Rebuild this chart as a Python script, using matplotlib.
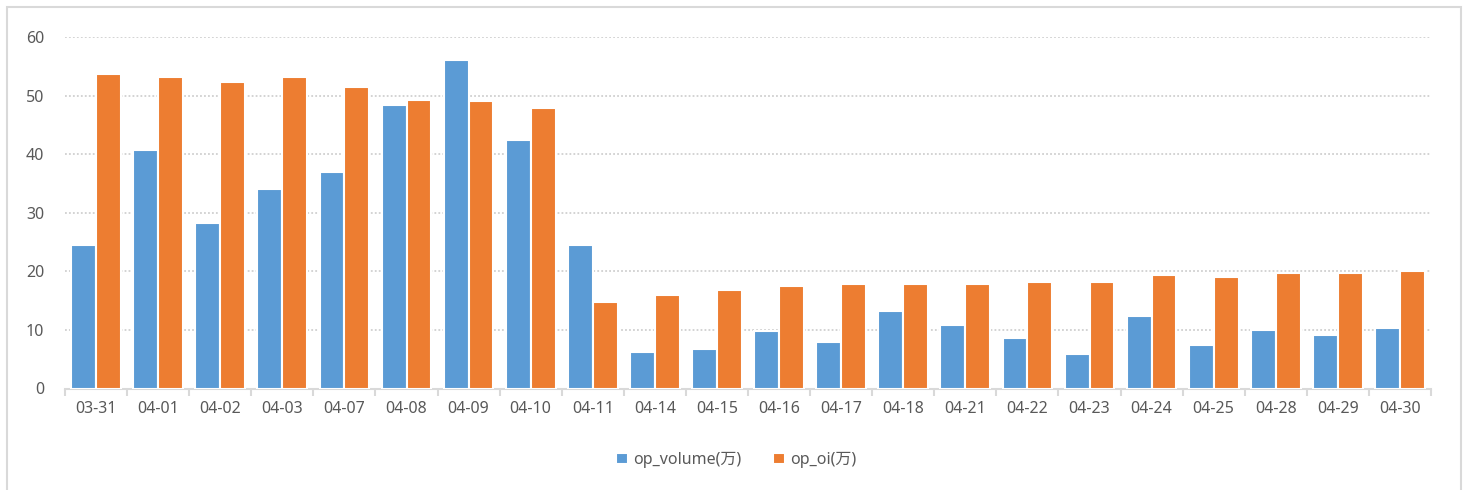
import numpy as np
import matplotlib.pyplot as plt
from matplotlib.patches import Rectangle

plt.rcParams['font.family'] = ['Noto Sans', 'Noto Sans CJK SC', 'DejaVu Sans']

dates = ['03-31', '04-01', '04-02', '04-03', '04-07', '04-08', '04-09', '04-10',
         '04-11', '04-14', '04-15', '04-16', '04-17', '04-18', '04-21', '04-22',
         '04-23', '04-24', '04-25', '04-28', '04-29', '04-30']
op_volume = [24.5, 40.7, 28.3, 34.1, 37.0, 48.5, 56.1, 42.4, 24.6, 6.3, 6.7,
             9.9, 8.0, 13.2, 10.9, 8.7, 5.9, 12.4, 7.5, 10.0, 9.1, 10.3]
op_oi = [53.8, 53.3, 52.4, 53.2, 51.5, 49.3, 49.1, 47.9, 14.7, 15.9, 16.8,
         17.5, 17.9, 17.8, 17.8, 18.2, 18.2, 19.4, 19.0, 19.7, 19.8, 20.1]

blue = '#5B9BD5'
orange = '#ED7D31'
grey = '#D9D9D9'
text_c = '#595959'

fig = plt.figure(figsize=(14.67, 4.9), dpi=100)
ax = fig.add_axes([65 / 1467, 1 - 388.5 / 490, (1431 - 65) / 1467, (388.5 - 37.3) / 490])

# outer chart border
fig.patches.append(Rectangle((7 / 1467, -0.1), (1461 - 7) / 1467, 1.1 - 7 / 490,
                             transform=fig.transFigure, fill=False,
                             edgecolor=grey, linewidth=1.5))

x = np.arange(len(dates))
w = 0.4
ax.bar(x - w / 2, op_volume, w, color=blue, edgecolor='white', linewidth=1.5,
       label='op_volume(万)', zorder=3)
ax.bar(x + w / 2, op_oi, w, color=orange, edgecolor='white', linewidth=1.5,
       label='op_oi(万)', zorder=3)

ax.set_xlim(-0.5, len(dates) - 0.5)
ax.set_ylim(0, 60)
ax.set_yticks(range(0, 61, 10))
ax.yaxis.grid(True, linestyle=(0, (1, 1.2)), color='#D0D0D0', linewidth=1.3)
ax.set_axisbelow(True)

for s in ['top', 'right', 'left']:
    ax.spines[s].set_visible(False)
ax.spines['bottom'].set_color(grey)
ax.spines['bottom'].set_linewidth(1.5)

ax.set_xticks(x)
ax.set_xticklabels(dates)
ax.set_xticks(np.arange(-0.5, len(dates), 1), minor=True)
ax.tick_params(axis='x', which='major', length=0, pad=9, labelsize=11.5, labelcolor=text_c)
ax.tick_params(axis='x', which='minor', length=5, width=1.5, color=grey)
ax.tick_params(axis='y', length=0, pad=15, labelsize=11.5, labelcolor=text_c)

leg = fig.legend(loc='center', bbox_to_anchor=(0.502, 1 - 460 / 490), ncol=2,
                 frameon=False, fontsize=11.5, handlelength=0.75, handleheight=0.75,
                 handletextpad=0.3, columnspacing=2.0)
for t in leg.get_texts():
    t.set_color(text_c)

fig.savefig('out.png', dpi=100)
